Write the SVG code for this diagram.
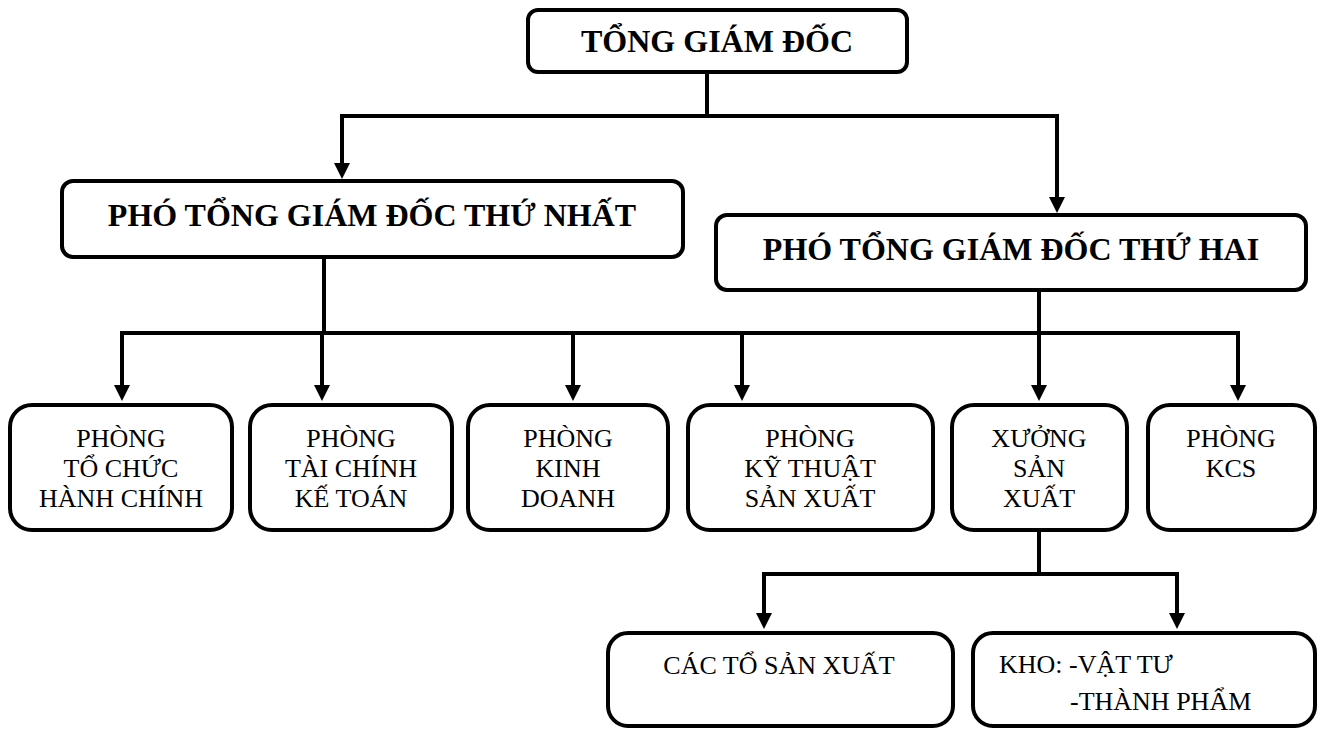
<svg xmlns="http://www.w3.org/2000/svg" width="1324" height="729" viewBox="0 0 1324 729">
<style>
.box{fill:#fff;stroke:#000;stroke-width:4}
.ln{fill:none;stroke:#000;stroke-width:4}
.t{font-family:"Liberation Serif","Times New Roman",serif;fill:#000;text-anchor:middle}
.s{text-anchor:start}
.b{font-weight:bold;font-size:32px}
.r{font-size:26px}
</style>
<defs>
<marker id="ah" markerUnits="userSpaceOnUse" markerWidth="16" markerHeight="16" viewBox="0 0 16 16" refX="2" refY="8" orient="auto">
<path d="M0,0 L16,8 L0,16 z" fill="#000"/>
</marker>
</defs>
<rect width="1324" height="729" fill="#fff"/>
<g id="connectors">
<path class="ln" d="M707,72 V116 M340,116 H1059"/>
<path class="ln" d="M342,116 V165" marker-end="url(#ah)"/>
<path class="ln" d="M1057,116 V199" marker-end="url(#ah)"/>
<path class="ln" d="M324,257 V333 M120,333 H1240"/>
<path class="ln" d="M122,333 V387" marker-end="url(#ah)"/>
<path class="ln" d="M322,333 V387" marker-end="url(#ah)"/>
<path class="ln" d="M573,333 V387" marker-end="url(#ah)"/>
<path class="ln" d="M742,333 V387" marker-end="url(#ah)"/>
<path class="ln" d="M1238,333 V387" marker-end="url(#ah)"/>
<path class="ln" d="M1039,290 V387" marker-end="url(#ah)"/>
<path class="ln" d="M1039,530 V574 M762,574 H1179"/>
<path class="ln" d="M764,574 V615" marker-end="url(#ah)"/>
<path class="ln" d="M1177,574 V615" marker-end="url(#ah)"/>
</g>
<g id="tgd">
<rect class="box" x="528" y="10" width="379" height="62" rx="10"/>
<text class="t b" x="717" y="52">TỔNG GIÁM ĐỐC</text>
</g>
<g id="ptgd1">
<rect class="box" x="62" y="181" width="621" height="76" rx="11"/>
<text class="t b" x="372" y="226">PHÓ TỔNG GIÁM ĐỐC THỨ NHẤT</text>
</g>
<g id="ptgd2">
<rect class="box" x="716" y="215" width="590" height="75" rx="11"/>
<text class="t b" x="1011" y="260">PHÓ TỔNG GIÁM ĐỐC THỨ HAI</text>
</g>
<g id="p-tchc">
<rect class="box" x="10" y="405" width="222" height="125" rx="22"/>
<text class="t r" x="121" y="447">PHÒNG</text>
<text class="t r" x="121" y="477">TỔ CHỨC</text>
<text class="t r" x="121" y="507">HÀNH CHÍNH</text>
</g>
<g id="p-tckt">
<rect class="box" x="250" y="405" width="202" height="125" rx="22"/>
<text class="t r" x="351" y="447">PHÒNG</text>
<text class="t r" x="351" y="477">TÀI CHÍNH</text>
<text class="t r" x="351" y="507">KẾ TOÁN</text>
</g>
<g id="p-kd">
<rect class="box" x="468" y="405" width="200" height="125" rx="22"/>
<text class="t r" x="568" y="447">PHÒNG</text>
<text class="t r" x="568" y="477">KINH</text>
<text class="t r" x="568" y="507">DOANH</text>
</g>
<g id="p-ktsx">
<rect class="box" x="688" y="405" width="245" height="125" rx="22"/>
<text class="t r" x="810" y="447">PHÒNG</text>
<text class="t r" x="810" y="477">KỸ THUẬT</text>
<text class="t r" x="810" y="507">SẢN XUẤT</text>
</g>
<g id="xsx">
<rect class="box" x="952" y="405" width="175" height="125" rx="22"/>
<text class="t r" x="1039" y="447">XƯỞNG</text>
<text class="t r" x="1039" y="477">SẢN</text>
<text class="t r" x="1039" y="507">XUẤT</text>
</g>
<g id="p-kcs">
<rect class="box" x="1148" y="405" width="167" height="125" rx="22"/>
<text class="t r" x="1231" y="447">PHÒNG</text>
<text class="t r" x="1231" y="477">KCS</text>
</g>
<g id="to-sx">
<rect class="box" x="608" y="633" width="345" height="93" rx="20"/>
<text class="t r" x="779" y="674">CÁC TỔ SẢN XUẤT</text>
</g>
<g id="kho">
<rect class="box" x="973" y="633" width="342" height="93" rx="20"/>
<text class="t r s" x="999" y="673">KHO: -VẬT TƯ</text>
<text class="t r s" x="1070" y="710">-THÀNH PHẨM</text>
</g>
</svg>
